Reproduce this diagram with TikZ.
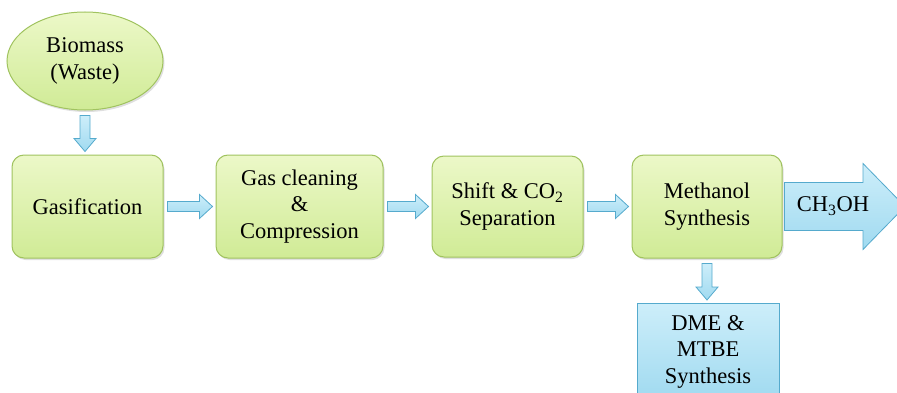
\documentclass[tikz,border=0pt]{standalone}
\usepackage{fontspec}
\setmainfont{Liberation Serif}
\usetikzlibrary{shapes.geometric,calc,shadows}
\definecolor{gfillT}{RGB}{236,248,200}
\definecolor{gfillB}{RGB}{208,235,150}
\definecolor{gline}{RGB}{160,195,95}
\definecolor{bfillT}{RGB}{205,238,250}
\definecolor{bfillB}{RGB}{160,218,240}
\definecolor{bline}{RGB}{85,170,205}
\tikzset{
  x=1pt,y=1pt,
  lbl/.style={font=\fontsize{22.5}{26.5}\selectfont,align=center,text=black},
  greenbox/.style={lbl,draw=gline,line width=1pt,rounded corners=12pt,
     top color=gfillT,bottom color=gfillB,
     drop shadow={shadow xshift=1.5pt,shadow yshift=-2pt,opacity=0.25}},
  greenell/.style={lbl,ellipse,draw=gline,line width=1pt,
     top color=gfillT,bottom color=gfillB,inner sep=0pt,
     drop shadow={shadow xshift=1.5pt,shadow yshift=-2pt,opacity=0.25}},
  bluebox/.style={lbl,draw=bline,line width=1pt,
     top color=bfillT,bottom color=bfillB},
  blockarrow/.style={draw=bline,line width=0.8pt,top color=bfillT,bottom color=bfillB},
}
\begin{document}
\begin{tikzpicture}
\useasboundingbox (0,0) rectangle (897,392);
\clip (0,0) rectangle (897,392);
\node[greenell,minimum width=156,minimum height=98] (bio) at (85,331) {Biomass\\(Waste)};
\node[greenbox,minimum width=151,minimum height=103] (gasi) at (87.5,185.5) {Gasification};
\node[greenbox,minimum width=167,minimum height=103] (clean) at (299.5,185.5) {Gas cleaning\\\&\\Compression};
\node[greenbox,minimum width=151,minimum height=101] (shift) at (507.5,185.5) {Shift \& CO\textsubscript{2}\\Separation};
\node[greenbox,minimum width=150,minimum height=103] (meth) at (707,185.5) {Methanol\\Synthesis};
\node[bluebox,minimum width=142,minimum height=96,anchor=north] (dme) at (708,89) {DME \&\\MTBE\\Synthesis};
% horizontal block arrows between boxes
\foreach \a/\b in {gasi/clean,clean/shift,shift/meth}{
  \path let \p1=($(\a.east)+(4,0)$), \p2=($(\b.west)+(-3,0)$) in
    [blockarrow] (\x1,\y1+5) -- (\x2-13,\y1+5) -- (\x2-13,\y1+12) -- (\x2,\y1)
    -- (\x2-13,\y1-12) -- (\x2-13,\y1-5) -- (\x1,\y1-5) -- cycle;
}
% vertical block arrows
\foreach \a/\b in {bio/gasi,meth/dme}{
  \path let \p1=($(\a.south)+(0,-5)$), \p2=($(\b.north)+(0,3)$) in
    [blockarrow] (\x1-5,\y1) -- (\x1-5,\y2+13) -- (\x1-11,\y2+13) -- (\x1,\y2)
    -- (\x1+11,\y2+13) -- (\x1+5,\y2+13) -- (\x1+5,\y1) -- cycle;
}
% output arrow
\coordinate (tip) at (905,185.5);
\path let \p1=($(meth.east)+(2,0)$), \p2=(tip) in
  [blockarrow] (\x1,\y1+24) -- (863,\y1+24) -- (863,\y1+43) -- (\x2,\y2)
  -- (863,\y1-43) -- (863,\y1-24) -- (\x1,\y1-24) -- cycle;
\node[lbl] (ch) at (833,186) {CH\textsubscript{3}OH};
\end{tikzpicture}
\end{document}
